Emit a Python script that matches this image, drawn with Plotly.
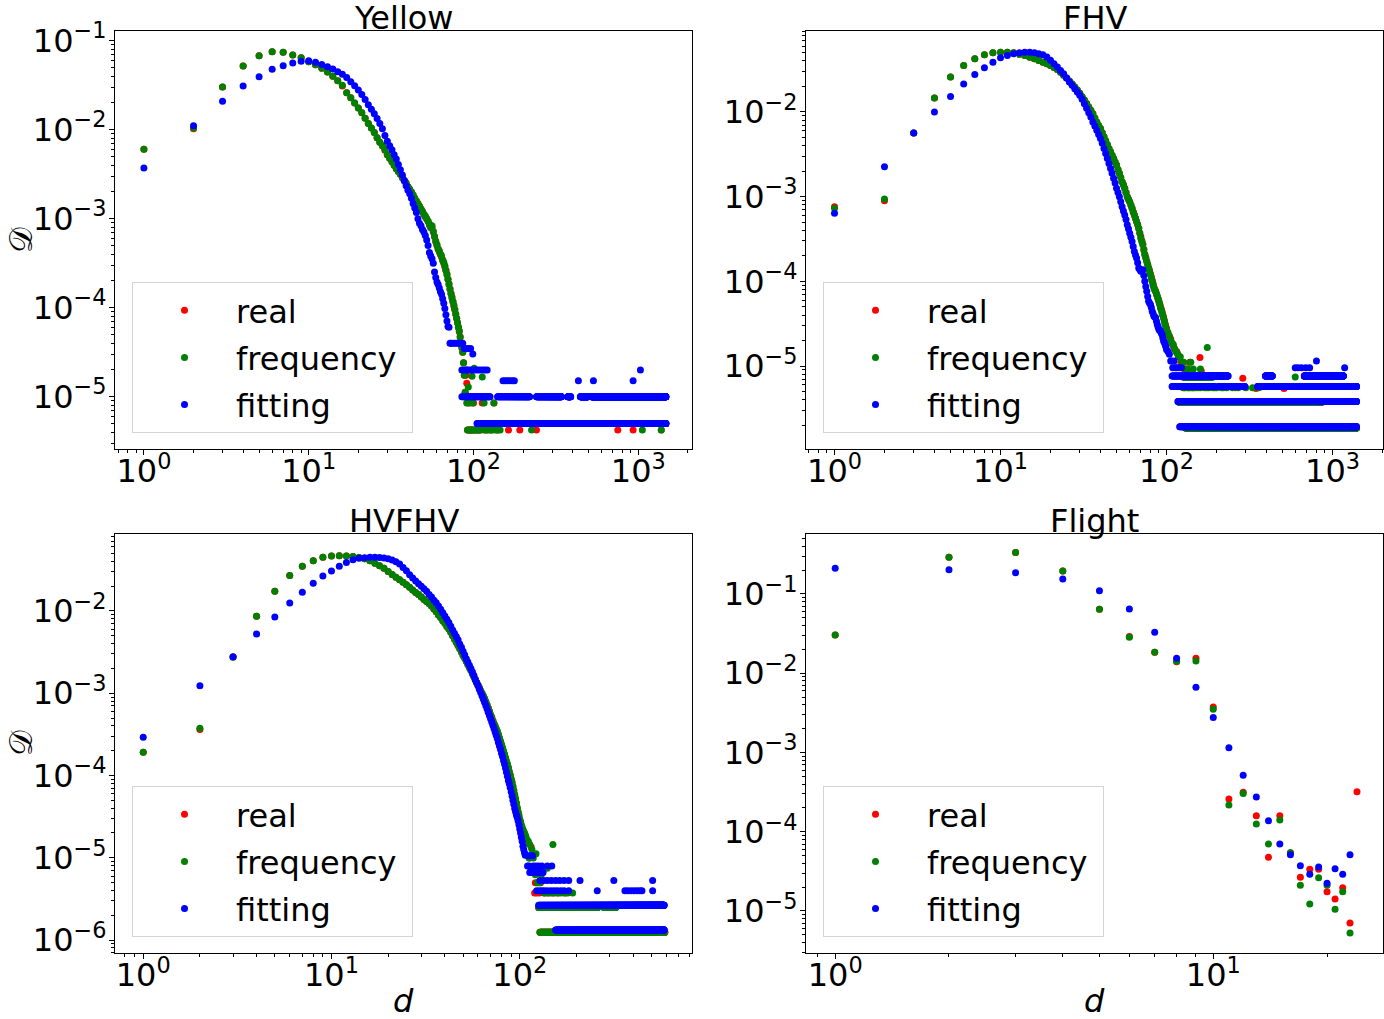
import plotly.graph_objects as go

# ===================== DATA (D given as log10) =====================
# ---- Yellow ----
yellow_d = list(range(1, 90))
yellow_real_log10 = [-2.22,-1.99,-1.52,-1.285,-1.17,-1.125,-1.13,-1.16,-1.19,-1.235,
 -1.27,-1.31,-1.35,-1.40,-1.45,-1.51,-1.585,-1.64,-1.70,-1.755,
 -1.81,-1.87,-1.93,-1.98,-2.03,-2.09,-2.14,-2.18,-2.23,-2.28,
 -2.32,-2.36,-2.40,-2.44,-2.47,-2.50,-2.54,-2.57,-2.60,-2.64,
 -2.67,-2.70,-2.74,-2.77,-2.80,-2.83,-2.86,-2.89,-2.92,-2.95,
 -2.98,-3.00,-3.03,-3.07,-3.10,-3.10,-3.15,-3.20,-3.25,-3.30,
 -3.34,-3.37,-3.40,-3.43,-3.46,-3.50,-3.54,-3.58,-3.62,-3.68,
 -3.73,-3.79,-3.84,-3.88,-3.93,-3.98,-4.02,-4.07,-4.12,-4.17,
 -4.22,-4.27,-4.33,-4.39,-4.45,-4.50,-4.62,-4.76,-4.95]
yellow_freq_log10 = [-2.22,-1.98,-1.52,-1.285,-1.17,-1.125,-1.13,-1.16,-1.19,-1.235,
 -1.27,-1.31,-1.35,-1.40,-1.45,-1.50,-1.585,-1.64,-1.70,-1.755,
 -1.81,-1.87,-1.93,-1.98,-2.03,-2.09,-2.14,-2.18,-2.22,-2.28,
 -2.32,-2.36,-2.40,-2.44,-2.47,-2.50,-2.53,-2.57,-2.60,-2.64,
 -2.67,-2.70,-2.73,-2.77,-2.80,-2.83,-2.86,-2.89,-2.92,-2.95,
 -2.97,-3.00,-3.03,-3.06,-3.10,-3.08,-3.14,-3.20,-3.26,-3.29,
 -3.34,-3.36,-3.40,-3.42,-3.47,-3.49,-3.53,-3.58,-3.63,-3.68,
 -3.74,-3.79,-3.84,-3.89,-3.93,-3.97,-4.02,-4.07,-4.12,-4.17,
 -4.22,-4.26,-4.33,-4.40,-4.45,-4.50,-4.62,-4.76,-4.95]
yellow_fit_log10 = [-2.43,-1.955,-1.68,-1.51,-1.405,-1.32,-1.28,-1.25,-1.23,-1.225,
 -1.243,-1.266,-1.292,-1.318,-1.348,-1.378,-1.412,-1.46,-1.506,-1.554,
 -1.605,-1.66,-1.72,-1.77,-1.82,-1.873,-1.93,-1.99,-2.065,-2.13,
 -2.18,-2.225,-2.28,-2.33,-2.39,-2.45,-2.51,-2.57,-2.63,-2.68,
 -2.72,-2.77,-2.83,-2.88,-2.93,-3.00,-3.05,-3.08,-3.12,-3.15,
 -3.19,-3.24,-3.30,-3.38,-3.42,-3.45,-3.50,-3.60,-3.66,-3.71,
 -3.74,-3.78,-3.82,-3.85,-3.90,-3.95,-4.01,-4.08,-4.15,-4.21,
 -4.22]
yellow_real_tail = [(90,-4.76),(91,-4.85),(92,-5.375),(93,-5.07),(94,-5.375),(96,-5.375),(98,-5.375),
 (99,-5.375),(100,-5.07),(103,-5.375),(107,-5.375),(110,-5.375),(113,-5.07),(116,-5.375),(120,-5.375),
 (128,-5.375),(133,-5.07),(140,-5.375),(163,-5.375),(191,-5.375),(241,-5.375),(751,-5.375),(930,-5.375),(1378,-5.375)]
yellow_freq_tail = [(90,-4.70),(91,-5.07),(92,-5.375),(93,-4.89),(94,-5.375),(95,-5.07),(96,-5.375),(97,-5.375),
 (98,-4.77),(99,-5.07),(100,-5.375),(101,-4.68),(102,-5.375),(104,-5.375),(106,-5.375),(108,-5.375),(110,-5.375),
 (113,-4.78),(116,-5.07),(118,-5.375),(122,-5.375),(126,-5.375),(130,-5.375),(133,-5.07),(136,-5.375),(140,-5.375),
 (145,-5.375),(225,-5.375),(1058,-5.375),(1378,-5.375)]
yellow_fit_tail = [(72,-4.40),(73,-4.40),(75,-4.40),(77,-4.40),(79,-4.40),(81,-4.40),(83,-4.40),(86,-4.40),
 (88,-4.46),(90,-4.46),(93,-4.46),(96,-4.46),(99,-4.52),
 (85,-4.70),(87,-4.70),(90,-4.70),(92,-4.70),(95,-4.70),(98,-4.70),(101,-4.70),(105,-4.70),(109,-4.70),
 (113,-4.70),(117,-4.70),(121,-4.70),(1030,-4.70),
 (151,-4.82),(156,-4.82),(161,-4.82),(166,-4.82),(172,-4.82),(177,-4.82),(433,-4.82),(534,-4.82),(930,-4.82)]
yellow_real_bands = []
yellow_freq_bands = []
yellow_fit_bands = [(-5.0,85,126),(-5.0,140,219),(-5.0,241,342),(-5.0,373,389),(-5.0,445,495),(-5.0,520,1470),
 (-5.301,105,1470)]

# ---- FHV ----
fhv_d = list(range(1, 101))
fhv_freq_log10 = [-3.137,-3.027,-2.247,-1.835,-1.588,-1.451,-1.373,-1.325,-1.302,-1.294,
 -1.294,-1.302,-1.318,-1.333,-1.353,-1.373,-1.392,-1.412,-1.431,-1.451,
 -1.475,-1.50,-1.53,-1.565,-1.60,-1.635,-1.67,-1.705,-1.74,-1.78,
 -1.82,-1.86,-1.90,-1.94,-1.98,-2.02,-2.07,-2.118,-2.16,-2.196,
 -2.245,-2.294,-2.34,-2.384,-2.43,-2.47,-2.51,-2.549,-2.59,-2.627,
 -2.68,-2.725,-2.775,-2.824,-2.86,-2.902,-2.95,-3.0,-3.03,-3.059,
 -3.10,-3.137,-3.18,-3.216,-3.255,-3.294,-3.33,-3.373,-3.43,-3.49,
 -3.53,-3.569,-3.63,-3.686,-3.725,-3.765,-3.80,-3.843,-3.88,-3.922,
 -3.96,-4.0,-4.04,-4.078,-4.10,-4.118,-4.15,-4.176,-4.205,-4.235,
 -4.27,-4.314,-4.34,-4.373,-4.40,-4.431,-4.47,-4.51,-4.54,-4.569]
fhv_real_log10 = [-3.118,-3.047,-2.247,-1.835,-1.588,-1.451,-1.373,-1.325,-1.302,-1.294,
 -1.294,-1.302,-1.318,-1.333,-1.353,-1.373,-1.392,-1.412,-1.431,-1.451,
 -1.475,-1.50,-1.53,-1.565,-1.60,-1.635,-1.67,-1.705,-1.74,-1.78,
 -1.82,-1.86,-1.90,-1.94,-1.98,-2.02,-2.07,-2.118,-2.16,-2.196,
 -2.245,-2.294,-2.34,-2.384,-2.43,-2.47,-2.51,-2.549,-2.59,-2.627,
 -2.68,-2.725,-2.775,-2.824,-2.86,-2.902,-2.95,-3.0,-3.03,-3.059,
 -3.10,-3.137,-3.18,-3.216,-3.255,-3.294,-3.33,-3.373,-3.43,-3.47,
 -3.52,-3.56,-3.62,-3.68,-3.72,-3.76,-3.80,-3.84,-3.87,-3.91,
 -3.95,-3.99,-4.03,-4.07,-4.10,-4.12,-4.15,-4.18,-4.21,-4.24,
 -4.27,-4.30,-4.33,-4.36,-4.40,-4.43,-4.46,-4.50,-4.53,-4.56]
fhv_fit_log10 = [-3.196,-2.647,-2.247,-2.0,-1.816,-1.671,-1.557,-1.478,-1.412,-1.361,
 -1.333,-1.314,-1.302,-1.294,-1.294,-1.302,-1.314,-1.325,-1.35,-1.39,
 -1.43,-1.47,-1.51,-1.55,-1.60,-1.645,-1.686,-1.725,-1.765,-1.804,
 -1.85,-1.902,-1.955,-2.008,-2.06,-2.118,-2.167,-2.216,-2.265,-2.314,
 -2.37,-2.431,-2.49,-2.549,-2.61,-2.667,-2.725,-2.784,-2.84,-2.902,
 -2.95,-3.0,-3.06,-3.118,-3.17,-3.216,-3.27,-3.333,-3.38,-3.431,
 -3.48,-3.529,-3.59,-3.647,-3.69,-3.725,-3.78,-3.843,-3.86,-3.882,
 -3.87,-3.863,-3.93,-4.0,-4.06,-4.118,-4.18,-4.235,-4.255,-4.275,
 -4.31,-4.353,-4.38,-4.412,-4.42,-4.431,-4.47,-4.51,-4.54,-4.569,
 -4.58,-4.588,-4.61,-4.627,-4.67,-4.706,-4.72,-4.745,-4.77,-4.804]
fhv_real_tail = [(102,-4.62),(104,-4.65),(106,-4.68),(108,-4.73),(110,-4.77),(112,-4.80),(115,-4.83),(117,-4.86),
 (119,-4.89),(122,-4.955),(125,-4.955),(128,-5.034),(133,-5.034),(138,-4.955),(159,-4.90),(162,-5.06),
 (288,-5.145),(346,-5.267),(510,-5.267),
 (128,-5.256),(136,-5.256),(144,-5.256),(155,-5.256),(175,-5.256),(195,-5.256),(220,-5.256),(260,-5.256)]
fhv_freq_tail = [(102,-4.60),(104,-4.65),(106,-4.70),(108,-4.73),(110,-4.75),(112,-4.80),(114,-4.83),(116,-4.85),
 (118,-4.89),(121,-4.89),(124,-4.955),(127,-4.955),(131,-5.034),(135,-5.034),(140,-4.955),(145,-5.034),
 (160,-5.034),(176,-4.78),(596,-5.131),
 (126,-5.256),(130,-5.256),(134,-5.256),(138,-5.256),(142,-5.256),(146,-5.256),(150,-5.256),(160,-5.256),
 (170,-5.256),(180,-5.256),(190,-5.256),(200,-5.256),(215,-5.256),(230,-5.256),(250,-5.256),(270,-5.256),
 (300,-5.256),(330,-5.256),(360,-5.256)]
fhv_fit_tail = [(102,-4.83),(104,-4.86),(106,-4.94),(107,-4.94),(109,-5.02),(111,-4.94),(113,-5.02),(115,-5.02),
 (119,-5.02),(123,-5.02),(596,-5.02),(620,-5.02),(650,-5.02),(690,-5.02),(728,-5.02),(1183,-5.02),(800,-4.94)]
fhv_real_bands = [(-5.131,126,185),(-5.432,120,850),(-5.733,130,1392)]
fhv_freq_bands = [(-5.131,126,190),(-5.432,120,850),(-5.733,130,1392)]
fhv_fit_bands = [(-5.118,108,235),(-5.118,394,434),(-5.118,676,1162),(-5.243,108,195),(-5.243,206,296),
 (-5.243,354,1392),(-5.42,117,1392),(-5.718,120,1392)]

# ---- HVFHV ----
hv_d = list(range(1, 111))
hv_freq_log10 = [-3.718,-3.427,-2.563,-2.065,-1.761,-1.570,-1.457,-1.388,-1.348,-1.331,
 -1.327,-1.331,-1.339,-1.35,-1.365,-1.39,-1.42,-1.45,-1.48,-1.52,
 -1.555,-1.59,-1.62,-1.65,-1.68,-1.71,-1.745,-1.775,-1.80,-1.83,
 -1.86,-1.885,-1.91,-1.94,-1.975,-2.01,-2.05,-2.08,-2.12,-2.15,
 -2.19,-2.22,-2.26,-2.30,-2.34,-2.38,-2.42,-2.46,-2.50,-2.54,
 -2.575,-2.61,-2.65,-2.69,-2.72,-2.76,-2.80,-2.84,-2.87,-2.90,
 -2.94,-2.97,-3.00,-3.03,-3.06,-3.10,-3.14,-3.18,-3.22,-3.26,
 -3.30,-3.34,-3.37,-3.40,-3.43,-3.46,-3.50,-3.54,-3.58,-3.62,
 -3.66,-3.70,-3.74,-3.78,-3.82,-3.86,-3.90,-3.95,-3.99,-4.04,
 -4.08,-4.13,-4.18,-4.23,-4.28,-4.33,-4.39,-4.44,-4.48,-4.53,
 -4.56,-4.60,-4.63,-4.66,-4.68,-4.70,-4.72,-4.75,-4.78,-4.80]
hv_real_log10 = [-3.718,-3.44,-2.56,-2.065,-1.761,-1.570,-1.457,-1.388,-1.348,-1.331,
 -1.327,-1.331,-1.339,-1.35,-1.365,-1.39,-1.42,-1.45,-1.48,-1.52,
 -1.555,-1.59,-1.62,-1.65,-1.68,-1.71,-1.745,-1.775,-1.80,-1.83,
 -1.86,-1.885,-1.91,-1.94,-1.975,-2.01,-2.05,-2.08,-2.12,-2.15,
 -2.19,-2.22,-2.26,-2.30,-2.34,-2.38,-2.42,-2.46,-2.50,-2.54,
 -2.57,-2.61,-2.65,-2.68,-2.72,-2.76,-2.79,-2.83,-2.87,-2.90,
 -2.93,-2.97,-3.00,-3.03,-3.07,-3.10,-3.14,-3.18,-3.22,-3.26,
 -3.29,-3.33,-3.37,-3.40,-3.44,-3.47,-3.51,-3.55,-3.59,-3.63,
 -3.67,-3.71,-3.75,-3.79,-3.83,-3.87,-3.91,-3.96,-4.00,-4.05,
 -4.09,-4.14,-4.19,-4.24,-4.29,-4.34,-4.40,-4.45,-4.50,-4.55,
 -4.58,-4.62,-4.65,-4.68,-4.70,-4.72,-4.74,-4.77,-4.80,-4.82]
hv_fit_log10 = [-3.536,-2.908,-2.555,-2.280,-2.073,-1.903,-1.773,-1.664,-1.574,-1.514,
 -1.457,-1.412,-1.376,-1.36,-1.352,-1.348,-1.348,-1.35,-1.355,-1.365,
 -1.38,-1.40,-1.43,-1.47,-1.51,-1.56,-1.60,-1.635,-1.67,-1.70,
 -1.73,-1.76,-1.80,-1.83,-1.87,-1.90,-1.94,-1.98,-2.02,-2.06,
 -2.10,-2.14,-2.185,-2.23,-2.27,-2.31,-2.35,-2.40,-2.44,-2.49,
 -2.535,-2.58,-2.62,-2.66,-2.70,-2.74,-2.78,-2.83,-2.87,-2.91,
 -2.95,-2.99,-3.03,-3.07,-3.11,-3.15,-3.19,-3.23,-3.27,-3.31,
 -3.35,-3.39,-3.43,-3.47,-3.51,-3.55,-3.60,-3.64,-3.68,-3.73,
 -3.77,-3.82,-3.86,-3.91,-3.96,-4.01,-4.06,-4.10,-4.15,-4.20,
 -4.25,-4.30,-4.35,-4.40,-4.44,-4.48,-4.51,-4.55,-4.60,-4.65,
 -4.70,-4.75,-4.80,-4.86,-4.90,-4.94,-4.97]
hv_real_tail = [(111,-4.82),(113,-5.004),(115,-4.87),(117,-5.129),(120,-5.43),(121,-5.305),(123,-5.43),
 (125,-5.305),(127,-5.43),(129,-5.305),(135,-5.43),(142,-5.43),(150,-5.43),(160,-5.43),(175,-5.43)]
hv_freq_tail = [(111,-4.80),(112,-5.004),(113,-4.84),(115,-5.129),(116,-4.90),(118,-5.004),(119,-5.129),
 (121,-5.208),(122,-4.95),(124,-5.305),(126,-5.129),(128,-5.305),(130,-5.208),(140,-5.129),(150,-4.84),
 (135,-5.43),(140,-5.43),(146,-5.43),(152,-5.43),(158,-5.43),(165,-5.43),(172,-5.43),(180,-5.43),(191,-5.43)]
hv_fit_tail = [(110,-5.10),(111,-4.975),(112,-5.10),(113,-5.179),(114,-4.975),(116,-5.179),(117,-4.975),
 (118,-5.10),(120,-5.179),(122,-5.10),(124,-5.179),(126,-5.10),(128,-5.179),(131,-5.10),(133,-5.179),
 (140,-5.10),(148,-5.10),
 (128,-5.276),(134,-5.276),(140,-5.276),(147,-5.276),(155,-5.276),(163,-5.276),(172,-5.276),(182,-5.276),
 (209,-5.276),(316,-5.276),(508,-5.276),
 (123,-5.401),(127,-5.401),(131,-5.401),(135,-5.401),(140,-5.401),(146,-5.401),(152,-5.401),(158,-5.401),
 (165,-5.401),(172,-5.401),(182,-5.401),(258,-5.401),(362,-5.401),(375,-5.401),(390,-5.401),(405,-5.401),
 (420,-5.401),(435,-5.401),(446,-5.401),(508,-5.401)]
hv_real_bands = [(-5.907,128,590),(-5.606,126,200),(-5.606,215,250),(-5.606,290,320)]
hv_freq_bands = [(-5.907,128,588),(-5.606,126,200),(-5.606,210,260),(-5.606,280,324)]
hv_fit_bands = [(-5.878,155,585),(-5.577,126,585)]

# ---- Flight ----
flight_d = list(range(1, 25))
flight_real_log10 = [-1.517,-0.537,-0.478,-0.710,-1.193,-1.538,-1.736,-1.854,-1.812,-2.426,
 -3.587,-3.503,-3.797,-4.323,-3.797,-4.264,-4.575,-4.474,-4.474,-4.756,
 -4.849,-4.706,-5.151,-3.494]
flight_freq_log10 = [-1.517,-0.537,-0.478,-0.710,-1.193,-1.547,-1.736,-1.850,-1.845,-2.455,
 -3.662,-3.519,-3.902,-4.155,-3.852,-4.264,-4.676,-4.912,-4.579,-4.676,
 -4.979,-4.756,-5.278]
flight_fit_log10 = [-0.676,-0.693,-0.731,-0.811,-0.958,-1.189,-1.484,-1.812,-2.177,-2.560,
 -2.939,-3.288,-3.561,-3.861,-4.155,-4.289,-4.428,-4.537,-4.445,-4.651,
 -4.466,-4.537,-4.289]

# ---- labels ----
panel_titles = ["Yellow", "FHV", "HVFHV", "Flight"]
series_names = ["real", "frequency\u00a0", "fitting"]
series_colors = ["red", "green", "blue"]
x_label = "<i>d</i>"
y_label = "\U0001D49F"

# ===================== FIGURE =====================
W, H = 1384, 1019
FONT = "DejaVu Sans"


def build(main_d, main_log, tail, bands):
    xs = list(main_d[:len(main_log)])
    ys = [10 ** v for v in main_log]
    for d, v in tail:
        xs.append(d)
        ys.append(10 ** v)
    for lvl, a, b in bands:
        for d in range(a, b + 1):
            xs.append(d)
            ys.append(10 ** lvl)
    return xs, ys


panels = [
    dict(d=yellow_d, logs=[yellow_real_log10, yellow_freq_log10, yellow_fit_log10],
         tails=[yellow_real_tail, yellow_freq_tail, yellow_fit_tail],
         bands=[yellow_real_bands, yellow_freq_bands, yellow_fit_bands],
         px=(115, 692), py=(30.5, 449), xr=[-0.1754, 3.3258], yr=[-5.588, -0.885],
         xt=[0, 1, 2, 3], yt=[-5, -4, -3, -2, -1]),
    dict(d=fhv_d, logs=[fhv_real_log10, fhv_freq_log10, fhv_fit_log10],
         tails=[fhv_real_tail, fhv_freq_tail, fhv_fit_tail],
         bands=[fhv_real_bands, fhv_freq_bands, fhv_fit_bands],
         px=(806, 1383), py=(30.5, 449), xr=[-0.1717, 3.304], yr=[-5.98, -1.038],
         xt=[0, 1, 2, 3], yt=[-5, -4, -3, -2]),
    dict(d=hv_d, logs=[hv_real_log10, hv_freq_log10, hv_fit_log10],
         tails=[hv_real_tail, hv_freq_tail, hv_fit_tail],
         bands=[hv_real_bands, hv_freq_bands, hv_fit_bands],
         px=(115, 692), py=(533.5, 953), xr=[-0.15, 2.915], yr=[-6.158, -1.058],
         xt=[0, 1, 2], yt=[-6, -5, -4, -3, -2]),
    dict(d=flight_d, logs=[flight_real_log10, flight_freq_log10, flight_fit_log10],
         tails=[[], [], []], bands=[[], [], []],
         px=(806, 1383), py=(533.5, 953), xr=[-0.0772, 1.449], yr=[-5.53, -0.237],
         xt=[0, 1], yt=[-5, -4, -3, -2, -1]),
]


def sup(p):
    s = str(abs(p))
    return "10<sup>" + ("\u2212" if p < 0 else "") + s + "</sup>"


fig = go.Figure()
layout = dict(width=W, height=H, margin=dict(l=0, r=0, t=0, b=0, autoexpand=False),
              paper_bgcolor="white", plot_bgcolor="white", showlegend=True,
              font=dict(family=FONT, color="black"))
annotations = []

for i, p in enumerate(panels):
    k = "" if i == 0 else str(i + 1)
    xa, ya = "x" + k, "y" + k
    leg = "legend" + k
    for s in range(3):
        xs, ys = build(p["d"], p["logs"][s], p["tails"][s], p["bands"][s])
        fig.add_trace(go.Scatter(
            x=xs, y=ys, mode="markers", name=series_names[s],
            marker=dict(color=series_colors[s], size=7, line=dict(width=0)),
            xaxis=xa, yaxis=ya, legend=leg, legendgroup=leg + str(s),
            showlegend=True, hoverinfo="skip"))

    x0, x1 = p["px"]
    y0, y1 = p["py"]
    xmin_e, xmax_e = int(p["xr"][0]) - 1, int(p["xr"][1]) + 1
    ymin_e, ymax_e = int(p["yr"][0]) - 1, int(p["yr"][1]) + 1
    xminor = [m * 10 ** e for e in range(xmin_e, xmax_e + 1) for m in range(2, 10)]
    yminor = [m * 10 ** e for e in range(ymin_e - 1, ymax_e + 1) for m in range(2, 10)]
    common = dict(type="log", showgrid=False, zeroline=False, showline=True, mirror=True,
                  automargin=False,
                  linecolor="black", linewidth=1.1, ticks="outside", ticklen=5, tickwidth=1.1,
                  tickcolor="black", tickmode="array",
                  tickfont=dict(family=FONT, size=32, color="black"))
    layout["xaxis" + k] = dict(common, domain=[x0 / W, x1 / W], range=p["xr"], anchor=ya,
                               tickvals=[10 ** e for e in p["xt"]],
                               ticktext=[sup(e) for e in p["xt"]],
                               ticklabelstandoff=-11,
                               minor=dict(ticks="outside", ticklen=3, tickwidth=0.8,
                                          tickcolor="black", tickmode="array", tickvals=xminor))
    layout["yaxis" + k] = dict(common, domain=[1 - y1 / H, 1 - y0 / H], range=p["yr"], anchor=xa,
                               tickvals=[10 ** e for e in p["yt"]],
                               ticktext=[sup(e) for e in p["yt"]],
                               ticklabelstandoff=-4,
                               minor=dict(ticks="outside", ticklen=3, tickwidth=0.8,
                                          tickcolor="black", tickmode="array", tickvals=yminor))
    layout[leg] = dict(x=(x0 + 17) / W, y=1 - (y1 - 16) / H, xanchor="left", yanchor="bottom",
                       font=dict(family=FONT, size=32, color="black"),
                       bgcolor="rgba(255,255,255,0.8)", bordercolor="#d4d4d4", borderwidth=1,
                       itemwidth=93, tracegroupgap=2.5, traceorder="grouped")
    cx = (x0 + x1) / 2
    annotations.append(dict(text=panel_titles[i], x=cx / W, y=1 - (y0 - 12.5) / H, xref="paper",
                            yref="paper", xanchor="center", yanchor="middle", showarrow=False,
                            font=dict(family=FONT, size=32, color="black")))
    if i in (0, 2):
        annotations.append(dict(text=y_label, x=0, y=1 - ((y0 + y1) / 2) / H, xref="paper",
                                yref="paper", xanchor="left", yanchor="middle", showarrow=False,
                                textangle=-90, font=dict(family="DejaVu Serif", size=32, color="black")))
    if i in (2, 3):
        annotations.append(dict(text=x_label, x=cx / W, y=1 - 1001 / H, xref="paper",
                                yref="paper", xanchor="center", yanchor="middle", showarrow=False,
                                font=dict(family=FONT, size=32, color="black")))

layout["annotations"] = annotations
fig.update_layout(**layout)

fig.write_html("out.html", config={"displayModeBar": False},
               post_script="document.body.style.margin='0';")
